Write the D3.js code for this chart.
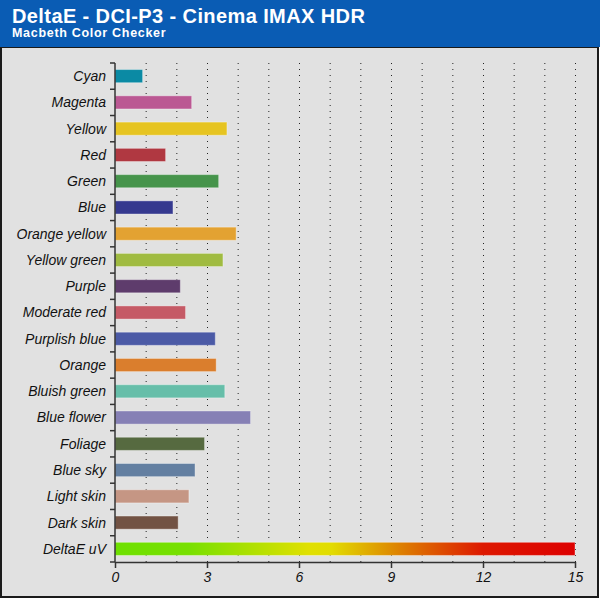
<!DOCTYPE html>
<html lang="en">
<head>
<meta charset="UTF-8">
<title>DeltaE - DCI-P3 - Cinema IMAX HDR</title>
<script src="https://d3js.org/d3.v7.min.js"></script>
<style>
  body { margin: 0; padding: 0; background: #ffffff; }
  svg { display: block; font-family: "Liberation Sans", Arial, sans-serif; }
</style>
</head>
<body>
<div id="chart"></div>
<script>
  // data
  const patches = ["Cyan", "Magenta", "Yellow", "Red", "Green", "Blue", "Orange yellow",
    "Yellow green", "Purple", "Moderate red", "Purplish blue", "Orange", "Bluish green",
    "Blue flower", "Foliage", "Blue sky", "Light skin", "Dark skin", "DeltaE uV"];
  const deltaE = [0.90, 2.50, 3.65, 1.65, 3.38, 1.89, 3.95, 3.52, 2.13, 2.30, 3.27, 3.30,
    3.58, 4.42, 2.92, 2.61, 2.41, 2.06, 15];
  const patchColors = ["#0b8aa4", "#bb5893", "#e6c421", "#b03841", "#46944b", "#35398f",
    "#e3a232", "#a0bb41", "#5e3c6c", "#c55a66", "#4b5aa6", "#da7e2d", "#66bea9",
    "#8680b5", "#566a40", "#637fa1", "#c59684", "#725243", null];
  const xTicks = [0, 3, 6, 9, 12, 15];

  const width = 600, height = 600;
  const margin = { left: 115, right: 25, top: 63, bottom: 38 };

  const svg = d3.select("#chart").append("svg")
      .attr("width", width)
      .attr("height", height);

  // gradient for the last bar
  const grad = svg.append("defs").append("linearGradient")
      .attr("id", "uvGrad")
      .attr("x1", "0%").attr("x2", "100%").attr("y1", "0%").attr("y2", "0%");
  [[0, "#6ee000"], [0.16, "#78e000"], [0.42, "#e0e000"], [0.47, "#e2dc00"],
   [0.63, "#dd7a00"], [0.8, "#dd1800"], [1, "#dd0000"]].forEach(s => {
    grad.append("stop").attr("offset", s[0]).attr("stop-color", s[1]);
  });

  // background frame
  svg.append("rect")
      .attr("x", 1).attr("y", 47).attr("width", 597).attr("height", 550)
      .attr("fill", "#e1e1e1").attr("stroke", "#1a1a1a").attr("stroke-width", 2);

  // title bar
  svg.append("rect")
      .attr("x", 0).attr("y", 0).attr("width", width).attr("height", 47)
      .attr("fill", "#0a5cb4");
  svg.append("text")
      .attr("x", 12).attr("y", 23)
      .attr("fill", "#ffffff").attr("font-size", 20).attr("font-weight", "bold")
      .attr("letter-spacing", 0.4)
      .text("DeltaE - DCI-P3 - Cinema IMAX HDR");
  svg.append("text")
      .attr("x", 12).attr("y", 37)
      .attr("fill", "#ffffff").attr("font-size", 12.5).attr("font-weight", "bold")
      .attr("letter-spacing", 0.7)
      .text("Macbeth Color Checker");

  const x = d3.scaleLinear().domain([0, 15]).range([margin.left, width - margin.right]);
  const y = d3.scaleBand().domain(patches)
      .range([margin.top, height - margin.bottom]).paddingInner(0.5).paddingOuter(0.25);

  // dotted gridlines at each unit
  svg.append("g").selectAll("line")
      .data(d3.range(1, 16))
      .join("line")
      .attr("x1", d => x(d) + 0.5).attr("x2", d => x(d) + 0.5)
      .attr("y1", margin.top).attr("y2", height - margin.bottom)
      .attr("stroke", "#222").attr("stroke-width", 1)
      .attr("stroke-dasharray", "1,5");

  // bars
  svg.append("g").selectAll("rect")
      .data(patches)
      .join("rect")
      .attr("x", x(0))
      .attr("y", d => y(d))
      .attr("width", (d, i) => x(deltaE[i]) - x(0))
      .attr("height", y.bandwidth())
      .attr("fill", (d, i) => patchColors[i] || "url(#uvGrad)")
      .attr("stroke", "rgba(255,255,255,0.35)").attr("stroke-width", 1);

  // y axis with ticks between rows
  const yAxis = svg.append("g").attr("transform", `translate(${x(0)},0)`);
  yAxis.append("line")
      .attr("x1", 0).attr("x2", 0)
      .attr("y1", margin.top).attr("y2", height - margin.bottom)
      .attr("stroke", "#333").attr("stroke-width", 1.5);
  const step = y.step();
  yAxis.selectAll("line.tick")
      .data(d3.range(patches.length + 1))
      .join("line")
      .attr("class", "tick")
      .attr("x1", -5).attr("x2", 0)
      .attr("y1", i => margin.top + i * step).attr("y2", i => margin.top + i * step)
      .attr("stroke", "#333").attr("stroke-width", 1.5);
  yAxis.selectAll("text")
      .data(patches)
      .join("text")
      .attr("x", -9)
      .attr("y", d => y(d) + y.bandwidth() / 2)
      .attr("dy", "0.35em")
      .attr("text-anchor", "end")
      .attr("font-size", 14).attr("font-style", "italic").attr("fill", "#111")
      .text(d => d);

  // x axis
  const xAxis = svg.append("g")
      .attr("transform", `translate(0,${height - margin.bottom})`)
      .call(d3.axisBottom(x).tickValues(xTicks).tickSize(6).tickSizeOuter(0).tickPadding(4));
  xAxis.select(".domain").attr("stroke", "#333").attr("stroke-width", 1.5);
  xAxis.selectAll(".tick line").attr("stroke", "#333").attr("stroke-width", 1.5);
  xAxis.selectAll(".tick text")
      .attr("font-size", 14).attr("font-style", "italic").attr("fill", "#111")
      .attr("font-family", "\"Liberation Sans\", Arial, sans-serif");
</script>
</body>
</html>
